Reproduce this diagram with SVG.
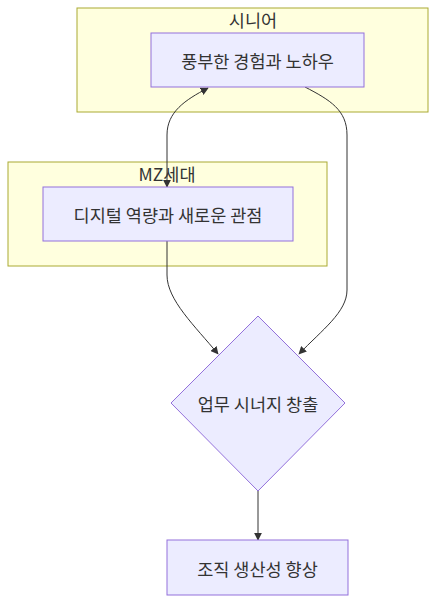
<svg xmlns="http://www.w3.org/2000/svg" width="436" height="603" viewBox="0 0 436 603">
<style>
.cluster{fill:#ffffde;stroke:#aaaa33;stroke-width:1}
.node{fill:#ececff;stroke:#9370db;stroke-width:1}
.lbl{font-family:"Noto Sans CJK KR","Noto Sans",sans-serif;font-size:17.5px;fill:#333;text-anchor:middle;dominant-baseline:central}
.edge{fill:none;stroke:#333;stroke-width:1}
</style>
<defs>
<marker id="ah" viewBox="0 0 10 10" refX="9" refY="5" markerWidth="8" markerHeight="8" orient="auto-start-reverse" markerUnits="userSpaceOnUse">
<path d="M0,0 L10,5 L0,10 z" fill="#333"/>
</marker>
</defs>
<g id="cluster-senior">
<rect class="cluster" x="77" y="8" width="351" height="104"/>
<text class="lbl" x="253" y="19">시니어</text>
</g>
<g id="cluster-mz">
<rect class="cluster" x="8" y="162" width="319" height="104"/>
<text class="lbl" x="167" y="173">MZ세대</text>
</g>
<g id="connectors">
<path class="edge" d="M167,187 L167,135 C167,112 185,100 208,88" marker-start="url(#ah)" marker-end="url(#ah)"/>
<path class="edge" d="M305,87 C330,100 347,110 347,135 L347,290 C347,312 322,330 299,354" marker-end="url(#ah)"/>
<path class="edge" d="M167,241 L167,275 C167,300 195,326 218,354" marker-end="url(#ah)"/>
<path class="edge" d="M258,491 L258,540" marker-end="url(#ah)"/>
</g>
<g id="node-experience">
<rect class="node" x="151" y="33" width="213" height="54"/>
<text class="lbl" x="257.5" y="60">풍부한 경험과 노하우</text>
</g>
<g id="node-digital">
<rect class="node" x="43" y="187" width="250" height="54"/>
<text class="lbl" x="168" y="214">디지털 역량과 새로운 관점</text>
</g>
<g id="node-synergy">
<polygon class="node" points="258,316 345,403 258,491 171,403"/>
<text class="lbl" x="258" y="403">업무 시너지 창출</text>
</g>
<g id="node-productivity">
<rect class="node" x="167" y="540" width="181" height="55"/>
<text class="lbl" x="257.5" y="568">조직 생산성 향상</text>
</g>
</svg>
